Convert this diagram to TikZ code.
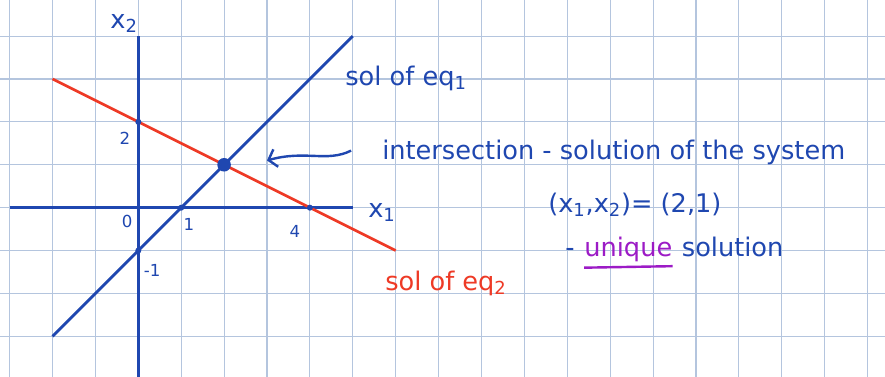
\documentclass[tikz,border=0pt]{standalone}
\usepackage{fontspec}
\setmainfont{DejaVu Sans}
\usepackage{xcolor}
\usetikzlibrary{arrows.meta,positioning}

\definecolor{inkblue}{HTML}{1F47B0}
\definecolor{inkred}{HTML}{EE3A26}
\definecolor{inkpurple}{HTML}{9C1BC6}
\definecolor{gridblue}{HTML}{B4C5DE}

\newcommand{\sub}[1]{\textsubscript{#1}}
\newcommand{\thickul}[1]{\tikz[baseline=(u.base)]{\node[inner sep=0pt] (u) {#1};
  \draw[line width=1.6pt, inkpurple] ([yshift=-4pt]u.south west) -- ([yshift=-3pt]u.south east);}}

\begin{document}
\begin{tikzpicture}[
  gridline/.style={draw=gridblue, line width=0.7pt},
  axis/.style={draw=inkblue, line width=2pt},
  solline/.style={line width=1.8pt},
  tick/.style={font=\fontsize{11}{13}\selectfont, text=inkblue, inner sep=0pt},
  dotmark/.style={circle, fill=inkblue, inner sep=0pt, minimum size=4pt},
  hand/.style={font=\fontsize{17}{20}\selectfont, text=inkblue, inner sep=0pt, anchor=west},
  arrow/.style={-{Straight Barb[length=5pt,width=12pt]}, line width=1.6pt, draw=inkblue}
]
\useasboundingbox (-3.224,-3.946) rectangle (17.406,4.841);
\fill[white] (-3.224,-3.946) rectangle (17.406,4.841);
\draw[gridline] (-3.224,-3.946) grid (17.406,4.841);

% axes
\coordinate (xl) at (-3,0);
\coordinate (xr) at (5,0);
\coordinate (yt) at (0,4);
\coordinate (yb) at (0,-3.95);
\draw[axis] (xl) -- (xr);
\draw[axis] (yb) -- (yt);

% the two solution lines
\coordinate (b1) at (-2,-3);
\coordinate (b2) at (5,4);
\coordinate (r1) at (-2,3);
\coordinate (r2) at (6,-1);
\draw[solline, inkblue] (b1) -- (b2);
\draw[solline, inkred] (r1) -- (r2);

% points on the lines
\node[dotmark] (p02) at (0,2) {};
\node[dotmark] (p10) at (1,0) {};
\node[dotmark] (p0m) at (0,-1) {};
\node[dotmark] (p40) at (4,0) {};
\node[dotmark, minimum size=9pt] (sol) at (2,1) {};

% tick labels
\node[tick] (t2) at (-0.31,1.62) {2};
\node[tick] (t0) at (-0.26,-0.31) {0};
\node[tick] (t1) at (1.18,-0.38) {1};
\node[tick] (t4) at (3.65,-0.55) {4};
\node[tick] (tm) at (0.32,-1.46) {-1};
\node[hand, anchor=center] (x2) at (-0.33,4.3) {x\sub{2}};
\node[hand, anchor=center] (x1) at (5.68,-0.12) {x\sub{1}};

% labels
\node[hand] (eq1) at (4.82,3.02) {sol of eq\sub{1}};
\node[hand, text=inkred] (eq2) at (5.75,-1.76) {sol of eq\sub{2}};
\node[hand] (note) at (5.68,1.28) {intersection - solution of the system};
\node[hand] (pair) at (9.55,0.06) {(x\sub{1},x\sub{2})= (2,1)};
\node[hand] (uniq) at (9.95,-1.05) {- \textcolor{inkpurple}{\thickul{unique}} solution};

\coordinate (tail) at (4.96,1.33);
\coordinate (tip) at (3.0,1.1);
\draw[arrow] (tail) .. controls (4.4,1.05) and (3.9,1.35) .. (tip);
\end{tikzpicture}
\end{document}
